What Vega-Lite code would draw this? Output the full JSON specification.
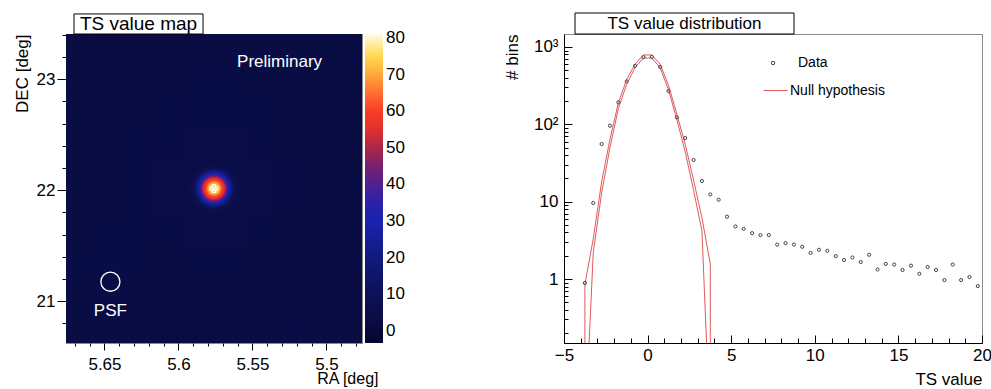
{
  "$schema": "https://vega.github.io/schema/vega-lite/v6.json",
  "padding": {"left": 12, "top": 12, "right": 0, "bottom": 0},
  "background": "white",
  "spacing": 202,
  "bounds": "flush",
  "resolve": {"scale": {"color": "independent", "stroke": "independent", "size": "independent"}, "legend": {"color": "independent", "stroke": "independent", "size": "independent"}},
  "config": {
    "font": "Liberation Sans",
    "view": {"stroke": "#8a8a8a"},
    "axis": {"labelFontSize": 17, "titleFontSize": 17, "labelColor": "black", "titleColor": "black", "titleFontWeight": "normal", "tickColor": "black", "domainColor": "black", "grid": false, "labelFlush": false, "labelOverlap": false, "tickWidth": 1, "domainWidth": 1},
    "legend": {"labelFont": "Liberation Sans"}
  },
  "datasets": {
    "bg": [
      {"ra0":5.656,"ra1":5.676,"dec0":23.128,"dec1":23.406,"ts":2.5},{"ra0":5.636,"ra1":5.656,"dec0":23.128,"dec1":23.406,"ts":2.5},{"ra0":5.616,"ra1":5.636,"dec0":23.128,"dec1":23.406,"ts":3},{"ra0":5.596,"ra1":5.616,"dec0":23.128,"dec1":23.406,"ts":3},{"ra0":5.576,"ra1":5.596,"dec0":23.128,"dec1":23.406,"ts":3},{"ra0":5.556,"ra1":5.576,"dec0":23.128,"dec1":23.406,"ts":3},{"ra0":5.536,"ra1":5.556,"dec0":23.128,"dec1":23.406,"ts":3},{"ra0":5.516,"ra1":5.536,"dec0":23.128,"dec1":23.406,"ts":3},{"ra0":5.496,"ra1":5.516,"dec0":23.128,"dec1":23.406,"ts":3},{"ra0":5.476,"ra1":5.496,"dec0":23.128,"dec1":23.406,"ts":2.5},
      {"ra0":5.656,"ra1":5.676,"dec0":22.85,"dec1":23.128,"ts":2.5},{"ra0":5.636,"ra1":5.656,"dec0":22.85,"dec1":23.128,"ts":2.5},{"ra0":5.616,"ra1":5.636,"dec0":22.85,"dec1":23.128,"ts":3},{"ra0":5.596,"ra1":5.616,"dec0":22.85,"dec1":23.128,"ts":3},{"ra0":5.576,"ra1":5.596,"dec0":22.85,"dec1":23.128,"ts":3.5},{"ra0":5.556,"ra1":5.576,"dec0":22.85,"dec1":23.128,"ts":3.5},{"ra0":5.536,"ra1":5.556,"dec0":22.85,"dec1":23.128,"ts":3},{"ra0":5.516,"ra1":5.536,"dec0":22.85,"dec1":23.128,"ts":3},{"ra0":5.496,"ra1":5.516,"dec0":22.85,"dec1":23.128,"ts":2.5},{"ra0":5.476,"ra1":5.496,"dec0":22.85,"dec1":23.128,"ts":2.5},
      {"ra0":5.656,"ra1":5.676,"dec0":22.571,"dec1":22.85,"ts":3},{"ra0":5.636,"ra1":5.656,"dec0":22.571,"dec1":22.85,"ts":3},{"ra0":5.616,"ra1":5.636,"dec0":22.571,"dec1":22.85,"ts":3},{"ra0":5.596,"ra1":5.616,"dec0":22.571,"dec1":22.85,"ts":3.5},{"ra0":5.576,"ra1":5.596,"dec0":22.571,"dec1":22.85,"ts":3.5},{"ra0":5.556,"ra1":5.576,"dec0":22.571,"dec1":22.85,"ts":3.5},{"ra0":5.536,"ra1":5.556,"dec0":22.571,"dec1":22.85,"ts":3.5},{"ra0":5.516,"ra1":5.536,"dec0":22.571,"dec1":22.85,"ts":3},{"ra0":5.496,"ra1":5.516,"dec0":22.571,"dec1":22.85,"ts":3},{"ra0":5.476,"ra1":5.496,"dec0":22.571,"dec1":22.85,"ts":2.5},
      {"ra0":5.656,"ra1":5.676,"dec0":22.293,"dec1":22.571,"ts":3},{"ra0":5.636,"ra1":5.656,"dec0":22.293,"dec1":22.571,"ts":3},{"ra0":5.616,"ra1":5.636,"dec0":22.293,"dec1":22.571,"ts":3.5},{"ra0":5.596,"ra1":5.616,"dec0":22.293,"dec1":22.571,"ts":3.5},{"ra0":5.576,"ra1":5.596,"dec0":22.293,"dec1":22.571,"ts":4},{"ra0":5.556,"ra1":5.576,"dec0":22.293,"dec1":22.571,"ts":4},{"ra0":5.536,"ra1":5.556,"dec0":22.293,"dec1":22.571,"ts":3.5},{"ra0":5.516,"ra1":5.536,"dec0":22.293,"dec1":22.571,"ts":3},{"ra0":5.496,"ra1":5.516,"dec0":22.293,"dec1":22.571,"ts":3},{"ra0":5.476,"ra1":5.496,"dec0":22.293,"dec1":22.571,"ts":3},
      {"ra0":5.656,"ra1":5.676,"dec0":22.015,"dec1":22.293,"ts":3},{"ra0":5.636,"ra1":5.656,"dec0":22.015,"dec1":22.293,"ts":3},{"ra0":5.616,"ra1":5.636,"dec0":22.015,"dec1":22.293,"ts":3.5},{"ra0":5.596,"ra1":5.616,"dec0":22.015,"dec1":22.293,"ts":4},{"ra0":5.576,"ra1":5.596,"dec0":22.015,"dec1":22.293,"ts":4},{"ra0":5.556,"ra1":5.576,"dec0":22.015,"dec1":22.293,"ts":4.5},{"ra0":5.536,"ra1":5.556,"dec0":22.015,"dec1":22.293,"ts":4},{"ra0":5.516,"ra1":5.536,"dec0":22.015,"dec1":22.293,"ts":3.5},{"ra0":5.496,"ra1":5.516,"dec0":22.015,"dec1":22.293,"ts":3},{"ra0":5.476,"ra1":5.496,"dec0":22.015,"dec1":22.293,"ts":3},
      {"ra0":5.656,"ra1":5.676,"dec0":21.737,"dec1":22.015,"ts":3},{"ra0":5.636,"ra1":5.656,"dec0":21.737,"dec1":22.015,"ts":3},{"ra0":5.616,"ra1":5.636,"dec0":21.737,"dec1":22.015,"ts":3.5},{"ra0":5.596,"ra1":5.616,"dec0":21.737,"dec1":22.015,"ts":4},{"ra0":5.576,"ra1":5.596,"dec0":21.737,"dec1":22.015,"ts":4.5},{"ra0":5.556,"ra1":5.576,"dec0":21.737,"dec1":22.015,"ts":4.5},{"ra0":5.536,"ra1":5.556,"dec0":21.737,"dec1":22.015,"ts":4},{"ra0":5.516,"ra1":5.536,"dec0":21.737,"dec1":22.015,"ts":3.5},{"ra0":5.496,"ra1":5.516,"dec0":21.737,"dec1":22.015,"ts":3},{"ra0":5.476,"ra1":5.496,"dec0":21.737,"dec1":22.015,"ts":2.5},
      {"ra0":5.656,"ra1":5.676,"dec0":21.459,"dec1":21.737,"ts":3},{"ra0":5.636,"ra1":5.656,"dec0":21.459,"dec1":21.737,"ts":3.5},{"ra0":5.616,"ra1":5.636,"dec0":21.459,"dec1":21.737,"ts":3.5},{"ra0":5.596,"ra1":5.616,"dec0":21.459,"dec1":21.737,"ts":3.5},{"ra0":5.576,"ra1":5.596,"dec0":21.459,"dec1":21.737,"ts":4},{"ra0":5.556,"ra1":5.576,"dec0":21.459,"dec1":21.737,"ts":4},{"ra0":5.536,"ra1":5.556,"dec0":21.459,"dec1":21.737,"ts":3.5},{"ra0":5.516,"ra1":5.536,"dec0":21.459,"dec1":21.737,"ts":3},{"ra0":5.496,"ra1":5.516,"dec0":21.459,"dec1":21.737,"ts":3},{"ra0":5.476,"ra1":5.496,"dec0":21.459,"dec1":21.737,"ts":3},
      {"ra0":5.656,"ra1":5.676,"dec0":21.18,"dec1":21.459,"ts":3.5},{"ra0":5.636,"ra1":5.656,"dec0":21.18,"dec1":21.459,"ts":3.5},{"ra0":5.616,"ra1":5.636,"dec0":21.18,"dec1":21.459,"ts":3.5},{"ra0":5.596,"ra1":5.616,"dec0":21.18,"dec1":21.459,"ts":3},{"ra0":5.576,"ra1":5.596,"dec0":21.18,"dec1":21.459,"ts":3.5},{"ra0":5.556,"ra1":5.576,"dec0":21.18,"dec1":21.459,"ts":3.5},{"ra0":5.536,"ra1":5.556,"dec0":21.18,"dec1":21.459,"ts":3},{"ra0":5.516,"ra1":5.536,"dec0":21.18,"dec1":21.459,"ts":3},{"ra0":5.496,"ra1":5.516,"dec0":21.18,"dec1":21.459,"ts":3},{"ra0":5.476,"ra1":5.496,"dec0":21.18,"dec1":21.459,"ts":3},
      {"ra0":5.656,"ra1":5.676,"dec0":20.902,"dec1":21.18,"ts":3},{"ra0":5.636,"ra1":5.656,"dec0":20.902,"dec1":21.18,"ts":3.5},{"ra0":5.616,"ra1":5.636,"dec0":20.902,"dec1":21.18,"ts":3},{"ra0":5.596,"ra1":5.616,"dec0":20.902,"dec1":21.18,"ts":3},{"ra0":5.576,"ra1":5.596,"dec0":20.902,"dec1":21.18,"ts":3},{"ra0":5.556,"ra1":5.576,"dec0":20.902,"dec1":21.18,"ts":3},{"ra0":5.536,"ra1":5.556,"dec0":20.902,"dec1":21.18,"ts":3},{"ra0":5.516,"ra1":5.536,"dec0":20.902,"dec1":21.18,"ts":3},{"ra0":5.496,"ra1":5.516,"dec0":20.902,"dec1":21.18,"ts":3},{"ra0":5.476,"ra1":5.496,"dec0":20.902,"dec1":21.18,"ts":3},
      {"ra0":5.656,"ra1":5.676,"dec0":20.624,"dec1":20.902,"ts":3},{"ra0":5.636,"ra1":5.656,"dec0":20.624,"dec1":20.902,"ts":3},{"ra0":5.616,"ra1":5.636,"dec0":20.624,"dec1":20.902,"ts":3},{"ra0":5.596,"ra1":5.616,"dec0":20.624,"dec1":20.902,"ts":2.5},{"ra0":5.576,"ra1":5.596,"dec0":20.624,"dec1":20.902,"ts":2.5},{"ra0":5.556,"ra1":5.576,"dec0":20.624,"dec1":20.902,"ts":3},{"ra0":5.536,"ra1":5.556,"dec0":20.624,"dec1":20.902,"ts":3},{"ra0":5.516,"ra1":5.536,"dec0":20.624,"dec1":20.902,"ts":3.5},{"ra0":5.496,"ra1":5.516,"dec0":20.624,"dec1":20.902,"ts":3},{"ra0":5.476,"ra1":5.496,"dec0":20.624,"dec1":20.902,"ts":3}
    ],
    "rings": [
      {"ra":5.576,"dec":22.015,"r":0.243,"ts":6},{"ra":5.576,"dec":22.015,"r":0.216,"ts":10},{"ra":5.576,"dec":22.015,"r":0.198,"ts":15},{"ra":5.576,"dec":22.015,"r":0.189,"ts":18},{"ra":5.576,"dec":22.015,"r":0.18,"ts":21},{"ra":5.576,"dec":22.015,"r":0.171,"ts":24},{"ra":5.576,"dec":22.015,"r":0.162,"ts":27},{"ra":5.576,"dec":22.015,"r":0.153,"ts":31},{"ra":5.576,"dec":22.015,"r":0.144,"ts":35},{"ra":5.576,"dec":22.015,"r":0.135,"ts":41},{"ra":5.576,"dec":22.015,"r":0.126,"ts":47},{"ra":5.576,"dec":22.015,"r":0.117,"ts":52},{"ra":5.576,"dec":22.015,"r":0.108,"ts":56},{"ra":5.576,"dec":22.015,"r":0.099,"ts":58},{"ra":5.576,"dec":22.015,"r":0.09,"ts":60},{"ra":5.576,"dec":22.015,"r":0.081,"ts":63},{"ra":5.576,"dec":22.015,"r":0.072,"ts":67},{"ra":5.576,"dec":22.015,"r":0.063,"ts":70},{"ra":5.576,"dec":22.015,"r":0.054,"ts":72},{"ra":5.576,"dec":22.015,"r":0.045,"ts":74},{"ra":5.576,"dec":22.015,"r":0.036,"ts":76},{"ra":5.576,"dec":22.015,"r":0.027,"ts":78},{"ra":5.576,"dec":22.015,"r":0.018,"ts":80},{"ra":5.576,"dec":22.015,"r":0.009,"ts":81}
    ],
    "src": [{"ra":5.576,"dec":22.015}],
    "psf": [{"ra":5.646,"dec":21.176,"r":0.097}],
    "notes": [{"ra":5.646,"dec":20.867,"label":"PSF"},{"ra":5.5317,"dec":23.11,"label":"Preliminary"}],
    "hist": [
      {"x":-3.75,"n":0.89},{"x":-3.25,"n":9.6},{"x":-2.75,"n":55.7},{"x":-2.25,"n":96},{"x":-1.75,"n":192},{"x":-1.25,"n":359},{"x":-0.75,"n":570},{"x":-0.25,"n":738},{"x":0.25,"n":745},{"x":0.75,"n":553},{"x":1.25,"n":269},{"x":1.75,"n":123},{"x":2.25,"n":66.5},{"x":2.75,"n":34.6},{"x":3.25,"n":18.5},{"x":3.75,"n":12.4},{"x":4.25,"n":10.6},{"x":4.75,"n":6.4},{"x":5.25,"n":4.78},{"x":5.75,"n":4.46},{"x":6.25,"n":3.92},{"x":6.75,"n":3.7},{"x":7.25,"n":3.7},{"x":7.75,"n":2.79},{"x":8.25,"n":2.91},{"x":8.75,"n":2.79},{"x":9.25,"n":2.61},{"x":9.75,"n":2.18},{"x":10.25,"n":2.39},{"x":10.75,"n":2.32},{"x":11.25,"n":1.98},{"x":11.75,"n":1.76},{"x":12.25,"n":1.9},{"x":12.75,"n":1.66},{"x":13.25,"n":2.06},{"x":13.75,"n":1.33},{"x":14.25,"n":1.57},{"x":14.75,"n":1.54},{"x":15.25,"n":1.31},{"x":15.75,"n":1.49},{"x":16.25,"n":1.17},{"x":16.75,"n":1.43},{"x":17.25,"n":1.31},{"x":17.75,"n":0.97},{"x":18.25,"n":1.54},{"x":18.75,"n":0.97},{"x":19.25,"n":1.06},{"x":19.75,"n":0.81}
    ],
    "band": [
      {"x":-3.75,"lo":0.01,"hi":0.86},{"x":-3.25,"lo":2.2,"hi":3.3},{"x":-2.75,"lo":13,"hi":18},{"x":-2.25,"lo":50,"hi":64},{"x":-1.75,"lo":160,"hi":190},{"x":-1.25,"lo":330,"hi":380},{"x":-0.75,"lo":540,"hi":600},{"x":-0.25,"lo":721,"hi":789},{"x":0.25,"lo":721,"hi":789},{"x":0.75,"lo":540,"hi":600},{"x":1.25,"lo":280,"hi":320},{"x":1.75,"lo":115,"hi":135},{"x":2.25,"lo":44,"hi":55},{"x":2.75,"lo":14,"hi":19},{"x":3.25,"lo":4.2,"hi":6.2},{"x":3.75,"lo":0.01,"hi":1.56}
    ]
  },
  "hconcat": [
    {
      "width": 296,
      "height": 309,
      "view": {"fill": "#0b0d48", "stroke": "#8a8a8a"},
      "layer": [
        {
          "data": {"name": "bg"},
          "mark": {"type": "rect", "clip": true},
          "encoding": {
            "x": {"field": "ra0", "type": "quantitative", "scale": {"domain": [5.476, 5.676], "reverse": true, "nice": false, "zero": false},
                  "axis": {"orient": "bottom", "values": [5.5, 5.55, 5.6, 5.65], "format": "~g", "tickSize": 7, "labelPadding": 6, "domain": false, "title": "RA [deg]", "titleFontSize": 16, "titleX": 312, "titleY": 40, "titleAlign": "right", "titleBaseline": "alphabetic", "titleAnchor": "end"}},
            "x2": {"field": "ra1"},
            "y": {"field": "dec0", "type": "quantitative", "scale": {"domain": [20.624, 23.406], "nice": false, "zero": false},
                  "axis": {"orient": "left", "values": [21, 22, 23], "tickSize": 9, "labelPadding": 2, "domain": false, "title": "DEC [deg]", "titleX": -52, "titleY": 0, "titleAlign": "right", "titleBaseline": "top", "titleAngle": 270}},
            "y2": {"field": "dec1"},
            "color": {"field": "ts", "type": "quantitative",
                      "scale": {"domain": [-3.3, 0, 5, 10, 20, 30, 35, 40, 45, 50, 55, 60, 65, 70, 75, 81.1],
                                "range": ["#06062e", "#08093a", "#0b0e4a", "#0d1156", "#121a7c", "#1a23ae", "#2a22a8", "#502090", "#7a2070", "#aa2848", "#e0302e", "#fa3c26", "#ff7030", "#ffa83a", "#ffd850", "#fffbe8"]},
                      "legend": {"orient": "right", "offset": 3, "gradientLength": 309, "gradientThickness": 18, "title": null, "values": [0, 10, 20, 30, 40, 50, 60, 70, 80], "labelFontSize": 17, "labelOffset": 3, "padding": 0, "labelOverlap": false, "gradientStrokeWidth": 0, "labelBaseline": "middle", "labelColor": "black"}}
          }
        },
        {
          "data": {"name": "rings"},
          "mark": {"type": "point", "filled": true, "opacity": 1, "shape": "circle", "strokeWidth": 0},
          "encoding": {
            "x": {"field": "ra", "type": "quantitative", "axis": {"orient": "bottom", "values": [5.48, 5.49, 5.51, 5.52, 5.53, 5.54, 5.56, 5.57, 5.58, 5.59, 5.61, 5.62, 5.63, 5.64, 5.66, 5.67], "tickSize": 3, "labels": false, "domain": false, "title": null}},
            "y": {"field": "dec", "type": "quantitative", "axis": {"orient": "left", "values": [20.8, 21.2, 21.4, 21.6, 21.8, 22.2, 22.4, 22.6, 22.8, 23.2, 23.4], "tickSize": 4, "labels": false, "domain": false, "title": null}},
            "size": {"field": "r", "type": "quantitative", "scale": {"type": "pow", "exponent": 2, "domain": [0, 0.25], "range": [0, 2419]}, "legend": null},
            "color": {"field": "ts", "type": "quantitative"},
            "order": {"field": "r", "sort": "descending"}
          }
        },
        {
          "data": {"name": "src"},
          "mark": {"type": "point", "shape": "cross", "size": 64, "filled": false, "stroke": "white", "strokeWidth": 1, "opacity": 1},
          "encoding": {
            "x": {"field": "ra", "type": "quantitative", "axis": null},
            "y": {"field": "dec", "type": "quantitative", "axis": null}
          }
        },
        {
          "data": {"name": "psf"},
          "mark": {"type": "point", "shape": "circle", "filled": false, "stroke": "white", "strokeWidth": 1.3, "opacity": 1},
          "encoding": {
            "x": {"field": "ra", "type": "quantitative", "axis": null},
            "y": {"field": "dec", "type": "quantitative", "axis": null},
            "size": {"field": "r", "type": "quantitative"}
          }
        },
        {
          "data": {"name": "notes"},
          "mark": {"type": "text", "color": "white", "fontSize": 17, "align": "center", "baseline": "alphabetic"},
          "encoding": {
            "x": {"field": "ra", "type": "quantitative", "axis": null},
            "y": {"field": "dec", "type": "quantitative", "axis": null},
            "text": {"field": "label"}
          }
        },
        {
          "data": {"values": [{}]},
          "mark": {"type": "rect", "fill": "white", "stroke": "black", "strokeWidth": 1},
          "encoding": {
            "x": {"datum": 5.6706, "type": "quantitative", "axis": null},
            "x2": {"datum": 5.5834},
            "y": {"datum": 23.406, "type": "quantitative", "axis": null},
            "y2": {"datum": 23.5865}
          }
        },
        {
          "data": {"values": [{}]},
          "mark": {"type": "text", "text": "TS value map", "fontSize": 19, "align": "center", "baseline": "middle", "color": "black"},
          "encoding": {
            "x": {"datum": 5.627, "type": "quantitative", "axis": null},
            "y": {"datum": 23.496, "type": "quantitative", "axis": null}
          }
        }
      ],
      "resolve": {"axis": {"x": "independent", "y": "independent"}}
    },
    {
      "width": 418,
      "height": 309,
      "layer": [
        {
          "data": {"name": "band"},
          "mark": {"type": "area", "fillOpacity": 0, "strokeWidth": 1, "clip": true, "interpolate": "linear"},
          "encoding": {
            "x": {"field": "x", "type": "quantitative", "scale": {"domain": [-5, 20], "nice": false, "zero": false},
                  "axis": {"orient": "bottom", "values": [-4, -3, -2, -1, 1, 2, 3, 4, 6, 7, 8, 9, 11, 12, 13, 14, 16, 17, 18, 19], "tickSize": -5, "labels": false, "domain": false, "title": null}},
            "y": {"field": "lo", "type": "quantitative", "scale": {"type": "log", "domain": [0.149, 1472], "nice": false},
                  "axis": {"orient": "left", "values": [0.2, 0.3, 0.4, 0.5, 0.6, 0.7, 0.8, 0.9, 2, 3, 4, 5, 6, 7, 8, 9, 20, 30, 40, 50, 60, 70, 80, 90, 200, 300, 400, 500, 600, 700, 800, 900], "tickSize": -4, "labels": false, "domain": false, "title": null}},
            "y2": {"field": "hi"},
            "stroke": {"datum": "Null hypothesis", "type": "nominal",
                       "scale": {"domain": ["Null hypothesis"], "range": ["#e05a5a"]},
                       "legend": {"orient": "none", "legendX": 199, "legendY": 44, "title": null, "labelFontSize": 14, "labelColor": "black", "symbolType": "stroke", "symbolSize": 576, "symbolStrokeWidth": 1, "labelOffset": 2, "padding": 0}}
          }
        },
        {
          "data": {"name": "hist"},
          "mark": {"type": "point", "size": 10, "strokeWidth": 1, "filled": false, "opacity": 1},
          "encoding": {
            "x": {"field": "x", "type": "quantitative",
                  "axis": {"orient": "bottom", "values": [-5, 0, 5, 10, 15, 20], "format": "d", "tickSize": -8, "labelPadding": 12, "domain": true, "title": "TS value", "titleX": 418, "titleY": 41, "titleAlign": "right", "titleBaseline": "alphabetic", "titleAnchor": "end"}},
            "y": {"field": "n", "type": "quantitative",
                  "axis": {"orient": "left", "values": [1, 10, 100, 1000], "labelExpr": "datum.value >= 1000 ? '10³' : datum.value >= 100 ? '10²' : datum.value >= 10 ? '10' : '1'", "tickSize": -8, "labelPadding": 14, "domain": true, "title": "# bins", "titleX": -60, "titleY": 0, "titleAlign": "right", "titleBaseline": "top", "titleAngle": 270}},
            "stroke": {"datum": "Data", "type": "nominal",
                       "scale": {"domain": ["Data"], "range": ["#444444"]},
                       "legend": {"orient": "none", "legendX": 202, "legendY": 22, "title": null, "labelFontSize": 14, "labelColor": "black", "symbolType": "circle", "symbolSize": 12, "symbolStrokeWidth": 1, "symbolFillColor": "transparent", "labelOffset": 18, "padding": 0}}
          }
        },
        {
          "data": {"values": [{}]},
          "mark": {"type": "rect", "fill": "white", "stroke": "black", "strokeWidth": 1},
          "encoding": {
            "x": {"datum": -4.342, "type": "quantitative", "axis": null},
            "x2": {"datum": 8.756},
            "y": {"datum": 1472, "type": "quantitative", "axis": null},
            "y2": {"datum": 2750}
          }
        },
        {
          "data": {"values": [{}]},
          "mark": {"type": "text", "text": "TS value distribution", "fontSize": 17, "align": "center", "baseline": "middle", "color": "black"},
          "encoding": {
            "x": {"datum": 2.207, "type": "quantitative", "axis": null},
            "y": {"datum": 2012, "type": "quantitative", "axis": null}
          }
        }
      ],
      "resolve": {"axis": {"x": "independent", "y": "independent"}, "scale": {"stroke": "independent"}, "legend": {"stroke": "independent"}}
    }
  ]
}
